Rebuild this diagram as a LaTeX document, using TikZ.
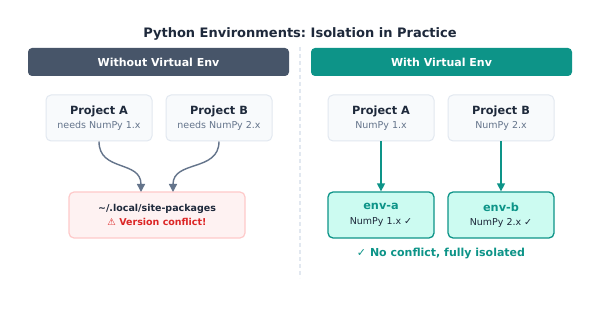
\documentclass[tikz,border=0pt]{standalone}
\usepackage{fontspec}
\setmainfont{DejaVu Sans}
\usetikzlibrary{arrows.meta}
\frenchspacing
\definecolor{slatedark}{HTML}{1E293B}
\definecolor{slatehead}{HTML}{475569}
\definecolor{slatemid}{HTML}{64748B}
\definecolor{slateline}{HTML}{E2E8F0}
\definecolor{slatebg}{HTML}{F8FAFC}
\definecolor{tealmain}{HTML}{0D9488}
\definecolor{tealbg}{HTML}{CCFBF1}
\definecolor{redbg}{HTML}{FEF2F2}
\definecolor{redline}{HTML}{FECACA}
\definecolor{redtext}{HTML}{DC2626}
\tikzset{
  header/.style={rounded corners=4pt, inner sep=0pt, text=white, font=\bfseries\fontsize{11}{13}\selectfont},
  projbox/.style={draw=slateline, line width=1pt, fill=slatebg, rounded corners=5pt, minimum width=106pt, minimum height=46pt, inner sep=0pt, align=center},
  sitebox/.style={draw=redline, line width=1.2pt, fill=redbg, rounded corners=5pt, minimum width=176pt, minimum height=46pt, inner sep=0pt, align=center},
  envbox/.style={draw=tealmain, line width=1.3pt, fill=tealbg, rounded corners=5pt, minimum width=106pt, minimum height=46pt, inner sep=0pt, align=center},
  grayarrow/.style={draw=slatemid, line width=1.4pt, -{Triangle[length=8pt,width=8pt]}},
  tealarrow/.style={draw=tealmain, line width=1.4pt, -{Triangle[length=8pt,width=8pt]}},
}
\newcommand{\ttl}[1]{{\bfseries\fontsize{11.3}{13}\selectfont #1}}
\newcommand{\sbt}[1]{{\fontsize{9.5}{11}\selectfont #1}}
\begin{document}
\frenchspacing
\begin{tikzpicture}[x=1pt,y=-1pt]
\useasboundingbox[fill=white] (0,0) rectangle (600,315);
\node[font=\bfseries\fontsize{13}{15}\selectfont, text=slatedark] (title) at (300,34) {Python Environments: Isolation in Practice};
\fill[slatehead, rounded corners=4pt] (28,48) rectangle (289,76);
\node[header] (hl) at (158.5,62) {Without Virtual Env};
\fill[tealmain, rounded corners=4pt] (311,48) rectangle (572,76);
\node[header] (hr) at (441.5,62) {With Virtual Env};
\coordinate (dtop) at (300,47);
\coordinate (dbot) at (300,278);
\draw[slateline, line width=1.2pt, dash pattern=on 4pt off 3pt] (dtop) -- (dbot);
% left side
\node[projbox] (la) at (99,118) {\textcolor{slatedark}{\ttl{Project A}}\\[2.5pt]\textcolor{slatemid}{\sbt{needs NumPy 1.x}}};
\node[projbox] (lb) at (219,118) {\textcolor{slatedark}{\ttl{Project B}}\\[2.5pt]\textcolor{slatemid}{\sbt{needs NumPy 2.x}}};
\node[sitebox] (site) at (157,215) {\textcolor{slatedark}{\bfseries\sbt{\textasciitilde/.local/site-packages}}\\[2.5pt]\textcolor{redtext}{\bfseries\sbt{⚠ Version conflict!}}};
\coordinate (sa) at (141,192);
\coordinate (sb) at (173,192);
\draw[grayarrow] (la.south) .. controls (99,172) and (141,160) .. (sa);
\draw[grayarrow] (lb.south) .. controls (219,172) and (173,160) .. (sb);
% right side
\node[projbox] (ra) at (381,118) {\textcolor{slatedark}{\ttl{Project A}}\\[2.5pt]\textcolor{slatemid}{\sbt{NumPy 1.x}}};
\node[projbox] (rb) at (501,118) {\textcolor{slatedark}{\ttl{Project B}}\\[2.5pt]\textcolor{slatemid}{\sbt{NumPy 2.x}}};
\node[envbox] (ea) at (381,215) {\textcolor{tealmain}{\ttl{env-a}}\\[2.5pt]\textcolor{slatedark}{\sbt{NumPy 1.x ✓}}};
\node[envbox] (eb) at (501,215) {\textcolor{tealmain}{\ttl{env-b}}\\[2.5pt]\textcolor{slatedark}{\sbt{NumPy 2.x ✓}}};
\draw[tealarrow] (ra.south) -- (ea.north);
\draw[tealarrow] (rb.south) -- (eb.north);
\node[text=tealmain, font=\bfseries\fontsize{11}{13}\selectfont] (ok) at (441,254) {✓ No conflict, fully isolated};
\end{tikzpicture}
\end{document}
